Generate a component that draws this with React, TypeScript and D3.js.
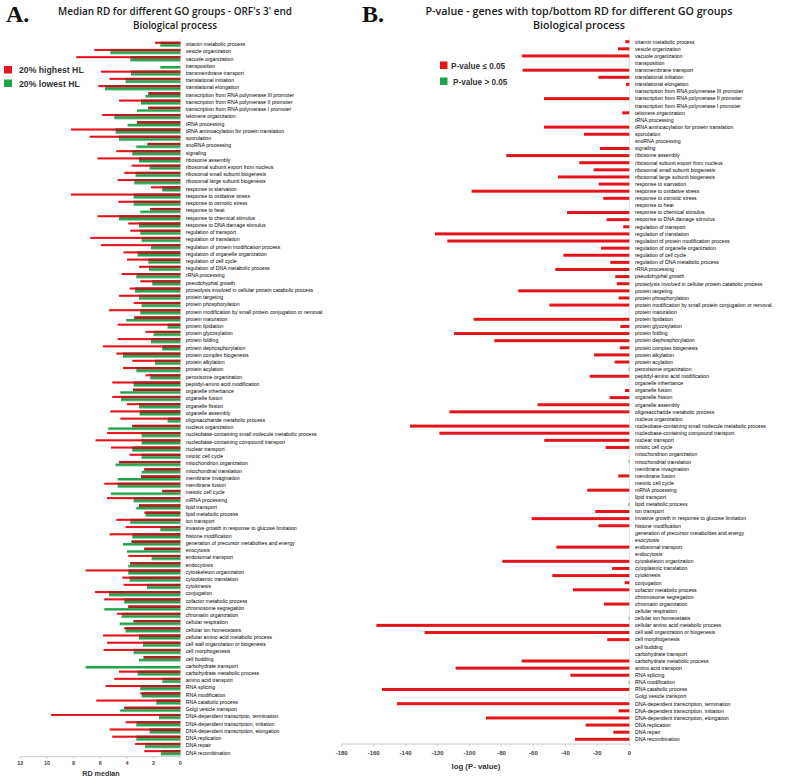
import React from "react";
import * as d3 from "d3";

const categoriesA = [
  "vitamin metabolic process",
  "vesicle organization",
  "vacuole organization",
  "transposition",
  "transmembrane transport",
  "translational initiation",
  "translational elongation",
  "transcription from RNA polymerase III promoter",
  "transcription from RNA polymerase II promoter",
  "transcription from RNA polymerase I promoter",
  "telomere organization",
  "tRNA processing",
  "tRNA aminoacylation for protein translation",
  "sporulation",
  "snoRNA processing",
  "signaling",
  "ribosome assembly",
  "ribosomal subunit export from nucleus",
  "ribosomal small subunit biogenesis",
  "ribosomal large subunit biogenesis",
  "response to starvation",
  "response to oxidative stress",
  "response to osmotic stress",
  "response to heat",
  "response to chemical stimulus",
  "response to DNA damage stimulus",
  "regulation of transport",
  "regulation of translation",
  "regulation of protein modification process",
  "regulation of organelle organization",
  "regulation of cell cycle",
  "regulation of DNA metabolic process",
  "rRNA processing",
  "pseudohyphal growth",
  "proteolysis involved in cellular protein catabolic process",
  "protein targeting",
  "protein phosphorylation",
  "protein modification by small protein conjugation or removal",
  "protein maturation",
  "protein lipidation",
  "protein glycosylation",
  "protein folding",
  "protein dephosphorylation",
  "protein complex biogenesis",
  "protein alkylation",
  "protein acylation",
  "peroxisome organization",
  "peptidyl-amino acid modification",
  "organelle inheritance",
  "organelle fusion",
  "organelle fission",
  "organelle assembly",
  "oligosaccharide metabolic process",
  "nucleus organization",
  "nucleobase-containing small molecule metabolic process",
  "nucleobase-containing compound transport",
  "nuclear transport",
  "mitotic cell cycle",
  "mitochondrion organization",
  "mitochondrial translation",
  "membrane invagination",
  "membrane fusion",
  "meiotic cell cycle",
  "mRNA processing",
  "lipid transport",
  "lipid metabolic process",
  "ion transport",
  "invasive growth in response to glucose limitation",
  "histone modification",
  "generation of precursor metabolites and energy",
  "exocytosis",
  "endosomal transport",
  "endocytosis",
  "cytoskeleton organization",
  "cytoplasmic translation",
  "cytokinesis",
  "conjugation",
  "cofactor metabolic process",
  "chromosome segregation",
  "chromatin organization",
  "cellular respiration",
  "cellular ion homeostasis",
  "cellular amino acid metabolic process",
  "cell wall organization or biogenesis",
  "cell morphogenesis",
  "cell budding",
  "carbohydrate transport",
  "carbohydrate metabolic process",
  "amino acid transport",
  "RNA splicing",
  "RNA modification",
  "RNA catabolic process",
  "Golgi vesicle transport",
  "DNA-dependent transcriptio, termination",
  "DNA-dependent transcription,  initiation",
  "DNA-dependent transcription, elongation",
  "DNA replication",
  "DNA repair",
  "DNA recombination",
];

const categoriesB = categoriesA.map((c) =>
  c === "DNA-dependent transcriptio, termination"
    ? "DNA-dependent transcription, termination"
    : c
);

// Panel A: median RD, 20% highest HL (red) / 20% lowest HL (green)
const highHL = [
  1.9, 6.45, 7.8, 0, 5.95, 5.3, 6.15, 2.4, 4.6, 2.4, 5.85, 3.25, 8.2, 6.8, 2.45, 4.8, 6.2, 3.65, 4.2, 4.7,
  2.2, 8.2, 4.65, 2.25, 6.2, 3.9, 3.75, 6.75, 5.95, 4.25, 4.0, 3.1, 4.4, 3.0, 3.8, 4.6, 3.5, 5.35, 3.45, 4.7,
  2.6, 4.7, 5.8, 4.8, 3.6, 4.3, 2.6, 5.1, 3.55, 5.1, 4.0, 5.25, 4.5, 3.6, 5.5, 6.35, 5.2, 3.8, 4.6, 2.7,
  2.95, 5.7, 1.35, 5.5, 3.1, 2.7, 4.8, 4.1, 5.3, 3.65, 2.7, 3.9, 3.75, 7.1, 4.35, 4.25, 6.4, 5.7, 3.9, 4.75,
  3.5, 4.2, 5.8, 5.5, 5.75, 2.75, 0, 4.6, 4.95, 5.6, 3.0, 6.3, 4.2, 9.7, 4.1, 5.3, 5.1, 3.4, 2.7,
];
const lowHL = [
  1.5, 5.25, 3.75, 1.5, 3.7, 4.1, 5.65, 2.6, 2.95, 3.25, 4.95, 3.95, 4.85, 4.6, 3.3, 3.6, 3.1, 2.3, 3.35, 3.45,
  1.35, 3.5, 3.5, 3.0, 4.6, 3.1, 3.0, 2.9, 2.2, 3.2, 2.4, 2.35, 3.3, 2.1, 3.4, 3.1, 2.9, 3.0, 4.05, 0.95,
  2.0, 2.2, 1.35, 4.3, 1.9, 3.3, 2.25, 3.5, 4.5, 4.45, 3.1, 3.05, 0.95, 5.4, 2.9, 2.9, 3.6, 2.9, 4.85, 2.9,
  4.7, 4.7, 5.2, 3.5, 3.3, 2.6, 3.75, 1.5, 3.6, 4.3, 4.0, 2.15, 3.9, 3.9, 3.8, 2.5, 5.35, 4.2, 5.7, 4.4,
  4.55, 4.1, 3.1, 2.8, 3.5, 3.1, 7.1, 3.2, 1.35, 3.0, 2.9, 1.8, 4.5, 1.6, 3.3, 2.3, 3.3, 2.65, 1.45,
];

// Panel B: log(P-value)
const logP = [
  -2.5, -7.1, -67.2, 0, -66.8, -19.4, -2.1, 0, -53.4, 0, -4.4, 0, -53.4, -28.4, 0, -18.4, -77, -31.3, -22.3, -44.6,
  -19.2, -98.7, -16.3, 0, -39, -14.2, -3.8, -121.6, -113.9, -17.7, -41.3, -11.9, -46.3, -8.8, -7.9, -69.5, -6.7, -50, 0, -97.4,
  -5.6, -109.7, -84.5, -6, -22.1, -9.2, -0.4, -24.8, 0, -2.7, -12.3, -57.4, -112.6, 0, -137.3, -118.9, -53.2, -14.8, 0, -0.4,
  0, -6.9, 0, -26.3, 0, -0.5, -21.3, -61.1, -19.4, 0, 0, -45.7, 0, -79.5, -10.8, -48.2, -2.9, -35.3, 0, -15.9,
  0, -0.4, -158.3, -128.1, -13.8, 0, 0, -67.4, -108.7, -36.9, -0.4, -154.8, 0, -145.4, -6.7, -89.7, -27.3, -10, -34,
];
// groups with P-value > 0.05
const nonSignificant = [
  "peroxisome organization",
  "mitochondrial translation",
  "lipid metabolic process",
  "cellular ion homeostasis",
  "RNA modification",
];

const ticksA = [12, 10, 8, 6, 4, 2, 0];
const ticksB = [-180, -160, -140, -120, -100, -80, -60, -40, -20, 0];

const RED = "#e5141c";
const DARK_RED = "#a8211e";
const GREEN = "#21a24b";

export default function App() {
  const xA = d3.scaleLinear().domain([0, 12]).range([180.3, 20.3]);
  const yA = d3.scalePoint<string>().domain(categoriesA).range([44.3, 752.7]);
  const xB = d3.scaleLinear().domain([-180, 0]).range([341.7, 629.3]);
  const yB = d3.scalePoint<string>().domain(categoriesB).range([41.7, 739.3]);

  const labelFont = "'Liberation Sans', Arial, sans-serif";
  const bh = 2.6;

  return (
    <svg
      width={785}
      height={780}
      style={{ position: "absolute", left: 0, top: 0, background: "#fff" }}
      fontFamily={labelFont}
    >
      <rect x={0} y={0} width={785} height={780} fill="#fff" />
      {/* Panel letters */}
      <text x={6} y={22} fontFamily="'Liberation Serif', 'Times New Roman', serif" fontWeight="bold" fontSize={24} fill="#111">A.</text>
      <text x={362} y={22} fontFamily="'Liberation Serif', 'Times New Roman', serif" fontWeight="bold" fontSize={24} fill="#111">B.</text>

      {/* Titles */}
      <text x={175} y={15} textAnchor="middle" fontFamily="'Open Sans', sans-serif" fontWeight={600} fontSize={10.5} textLength={234} lengthAdjust="spacingAndGlyphs" fill="#1a1a1a">
        Median RD for different GO groups - ORF's 3' end
      </text>
      <text x={175} y={29} textAnchor="middle" fontFamily="'Open Sans', sans-serif" fontWeight={600} fontSize={10.5} textLength={84} lengthAdjust="spacingAndGlyphs" fill="#1a1a1a">
        Biological process
      </text>
      <text x={579} y={15} textAnchor="middle" fontFamily="'Open Sans', sans-serif" fontWeight={600} fontSize={11} textLength={307} lengthAdjust="spacingAndGlyphs" fill="#1a1a1a">
        P-value - genes with top/bottom RD for different GO groups
      </text>
      <text x={579} y={29} textAnchor="middle" fontFamily="'Open Sans', sans-serif" fontWeight={600} fontSize={11} textLength={92} lengthAdjust="spacingAndGlyphs" fill="#1a1a1a">
        Biological process
      </text>

      {/* Legend A */}
      <rect x={4} y={66} width={8} height={7.5} fill={RED} />
      <text x={19} y={73} fontWeight="bold" fontSize={8.7} fill="#333">20% highest HL</text>
      <rect x={4} y={79.5} width={8} height={7.5} fill={GREEN} />
      <text x={19} y={86.5} fontWeight="bold" fontSize={8.7} fill="#333">20% lowest HL</text>

      {/* Legend B */}
      <rect x={440} y={61.5} width={7.5} height={7.5} fill={RED} />
      <text x={451} y={68.5} fontWeight="bold" fontSize={8.2} fill="#333">P-value ≤ 0.05</text>
      <rect x={440} y={77.5} width={7.5} height={7.5} fill={GREEN} />
      <text x={453} y={84.5} fontWeight="bold" fontSize={8.2} fill="#333">P-value &gt; 0.05</text>

      {/* Panel A bars */}
      <line x1={xA(0)} x2={xA(0)} y1={38} y2={756.7} stroke="#d0d0d0" strokeWidth={0.6} />
      {categoriesA.map((c, i) => {
        const cy = yA(c) as number;
        const hi = highHL[i];
        const lo = lowHL[i];
        const both = Math.min(hi, lo);
        return (
          <g key={c}>
            {hi > 0 && (
              <>
                <rect x={xA(hi)} y={cy - bh + 0.8} width={xA(0) - xA(hi)} height={1.3} fill="#f6a9ab" />
                <rect x={xA(hi)} y={cy - bh} width={xA(0) - xA(hi)} height={bh - 0.6} fill={RED} />
                {both > 0 && (
                  <rect x={xA(both)} y={cy - bh} width={xA(0) - xA(both)} height={bh} fill={DARK_RED} />
                )}
              </>
            )}
            {lo > 0 && (
              <>
                <rect x={xA(lo)} y={cy} width={xA(0) - xA(lo)} height={bh} fill={GREEN} />
                <rect x={xA(lo)} y={cy + bh - 0.5} width={xA(0) - xA(lo)} height={0.7} fill="#8fd6a6" />
              </>
            )}
            <text x={185.7} y={cy} dy="0.35em" fontSize={5.2} fill="#000">
              {c}
            </text>
          </g>
        );
      })}
      {/* Axis A */}
      <line x1={xA(12)} x2={xA(0)} y1={756.7} y2={756.7} stroke="#bdbdbd" strokeWidth={0.8} />
      {ticksA.map((t) => (
        <g key={t}>
          <line x1={xA(t)} x2={xA(t)} y1={756.7} y2={758.7} stroke="#bdbdbd" strokeWidth={0.8} />
          <text x={xA(t)} y={765} textAnchor="middle" fontWeight="bold" fontSize={5.5} fill="#444">
            {t}
          </text>
        </g>
      ))}
      <text x={101} y={776} textAnchor="middle" fontWeight="bold" fontSize={7.2} fill="#333">RD median</text>

      {/* Panel B bars */}
      <line x1={xB(0)} x2={xB(0)} y1={36} y2={744} stroke="#c8c8c8" strokeWidth={0.6} />
      {categoriesB.map((c, i) => {
        const cy = yB(c) as number;
        const v = logP[i];
        const ns = nonSignificant.includes(categoriesA[i]);
        return (
          <g key={c}>
            {v < 0 && (
              <rect x={xB(v)} y={cy - 1.5} width={xB(0) - xB(v)} height={3} fill={ns ? GREEN : RED} />
            )}
            <text x={635} y={cy} dy="0.35em" fontSize={5.2} fill="#000">
              {c}
            </text>
          </g>
        );
      })}
      {/* Axis B */}
      <line x1={xB(-180)} x2={xB(0)} y1={744} y2={744} stroke="#bdbdbd" strokeWidth={0.8} />
      {ticksB.map((t) => (
        <g key={t}>
          <line x1={xB(t)} x2={xB(t)} y1={744} y2={746} stroke="#bdbdbd" strokeWidth={0.8} />
          <text x={xB(t)} y={754.5} textAnchor="middle" fontWeight="bold" fontSize={6} fill="#444">
            {t}
          </text>
        </g>
      ))}
      <text x={476} y={768.5} textAnchor="middle" fontWeight="bold" fontSize={7.8} fill="#333">log (P- value)</text>
    </svg>
  );
}
